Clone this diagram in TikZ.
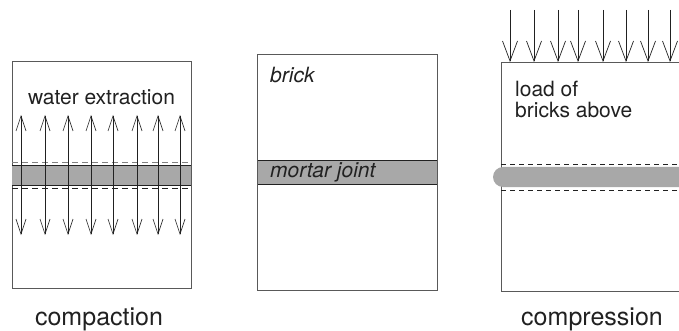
\documentclass[tikz,border=0pt]{standalone}
\usepackage{fontspec}
\setmainfont{TeX Gyre Heros}
\usetikzlibrary{arrows.meta}
\definecolor{mortar}{gray}{0.66}
\definecolor{ink}{gray}{0.13}
\definecolor{edge}{gray}{0.35}
\tikzset{
  brickbox/.style={draw=edge, line width=0.7pt, fill=white},
  bandfill/.style={fill=mortar, draw=none},
  bandline/.style={draw=ink, line width=0.6pt},
  dashline/.style={draw=ink, line width=0.6pt, dash pattern=on 6pt off 4pt},
  uparrow/.style={draw=ink, line width=0.6pt,
    {Straight Barb[length=15pt,width=10pt]}-{Straight Barb[length=15pt,width=10pt]}},
  loadarrow/.style={draw=ink, line width=0.7pt, -{Straight Barb[length=20pt,width=15pt]}},
  intext/.style={text=ink, inner sep=0pt, font=\fontsize{21}{22}\selectfont},
  caption/.style={text=ink, inner sep=0pt, font=\fontsize{25}{28}\selectfont, anchor=base},
}
\begin{document}
\begin{tikzpicture}[x=1pt, y=-1pt]
\useasboundingbox (0,0) rectangle (679,331);
\clip (0,0) rectangle (679,331);

% ---------- left panel: compaction ----------
\draw[brickbox] (12,61) rectangle (191,288);
\fill[bandfill] (12,165) rectangle (191,185);
\draw[bandline] (12,165) -- (191,165);
\draw[bandline] (12,185) -- (191,185);
\draw[dashline, draw=gray] (12,162) -- (191,162);
\draw[dashline] (12,188) -- (191,188);
\foreach \i/\x in {1/21,2/45,3/68,4/91,5/113,6/137,7/158,8/180} {
  \coordinate (lt\i) at (\x,115);
  \coordinate (lb\i) at (\x,235);
  \draw[uparrow] (lb\i) -- (lt\i);
}
\node[intext, anchor=base] (water) at (101.5,105) {water extraction};
\node[caption] (compaction) at (99,325) {compaction};

% ---------- middle panel: brick / mortar ----------
\draw[brickbox] (257,54) rectangle (437,290);
\fill[bandfill] (257,160) rectangle (437,184);
\draw[bandline] (257,160) -- (437,160);
\draw[bandline] (257,184) -- (437,184);
\draw[edge, line width=0.7pt] (257,54) rectangle (437,290);
\node[intext, anchor=base west, font=\fontsize{21}{22}\selectfont\itshape] (brick) at (270,83) {brick};
\node[intext, anchor=base west, font=\fontsize{21}{22}\selectfont\itshape] (mortar) at (270,178) {mortar joint};

% ---------- right panel: compression ----------
\draw[brickbox] (501,62) rectangle (700,291);
\fill[bandfill] (503,167) arc[start angle=90, end angle=270, radius=10pt] -- (700,187) -- (700,167) -- cycle;
\draw[dashline, dash pattern=on 5pt off 4pt] (501,164) -- (679,164);
\draw[dashline, dash pattern=on 5pt off 4pt] (501,190) -- (679,190);
\foreach \i/\x in {1/510,2/534,3/558,4/578,5/603,6/626,7/648,8/670} {
  \coordinate (rt\i) at (\x,10);
  \coordinate (rb\i) at (\x,62);
  \draw[loadarrow] (rt\i) -- (rb\i);
}
\node[intext, anchor=base west] (load1) at (515,97) {load of};
\node[intext, anchor=base west] (load2) at (515,118) {bricks above};
\node[caption] (compression) at (592,325) {compression};
\end{tikzpicture}
\end{document}
